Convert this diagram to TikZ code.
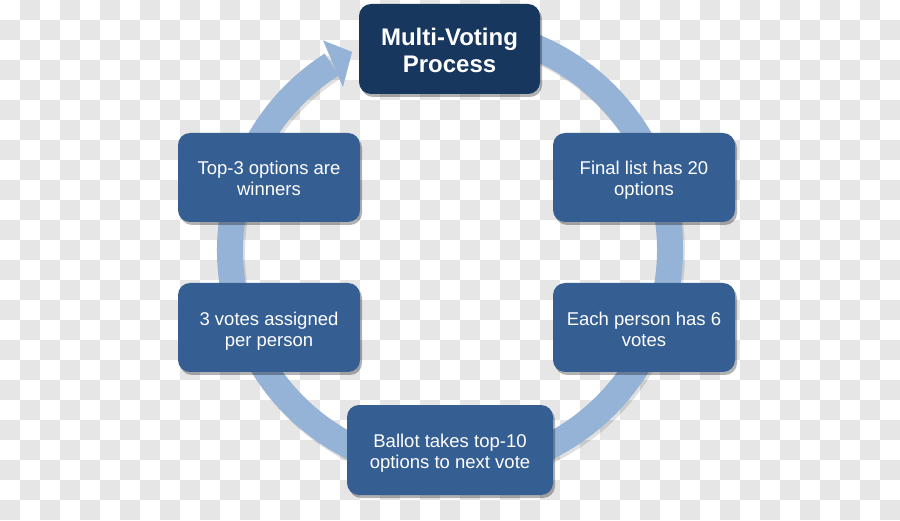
\documentclass[tikz,border=0pt]{standalone}
\usepackage{fontspec}
\setmainfont{Liberation Sans}
\usetikzlibrary{shadows}
\definecolor{boxblue}{HTML}{355E92}
\definecolor{navy}{HTML}{17375E}
\definecolor{ringblue}{HTML}{95B3D7}
\definecolor{checkgray}{HTML}{E6E6E6}
\newcommand{\lowtext}[2][3pt]{\raisebox{-#1}[\height][\depth]{\begin{tabular}{@{}c@{}}#2\end{tabular}}}
\tikzset{
  stepbox/.style={draw=none, fill=boxblue, rounded corners=12pt, text=white,
    minimum width=182pt, minimum height=89pt, align=center, inner sep=0pt,
    font=\fontsize{18.5}{21}\selectfont,
    drop shadow={shadow xshift=2pt, shadow yshift=-3pt, opacity=0.3, fill=black}},
  titlebox/.style={stepbox, fill=navy, minimum width=181pt, minimum height=90pt,
    font=\fontsize{24}{27}\selectfont\bfseries},
  ringline/.style={draw=ringblue, line width=26pt},
  checksq/.style={fill=checkgray, draw=none},
}
\begin{document}
\begin{tikzpicture}[x=1pt,y=1pt]
\useasboundingbox (0,0) rectangle (900,520);
\fill[white] (0,0) rectangle (900,520);
% checkerboard background
\foreach \x in {20,60,...,880}{
  \foreach \y in {20,60,...,500}{
    \fill[checksq] (\x,\y) rectangle ++(20,20);
  }
}
\foreach \x in {0,40,...,880}{
  \foreach \y in {0,40,...,480}{
    \fill[checksq] (\x,\y) rectangle ++(20,20);
  }
}
\coordinate (c) at (450,270);
% ring shadow
\draw[draw=black, opacity=0.12, line width=26pt] ([shift={(2,-3)}]c) ++(80:220) arc[start angle=80, end angle=-238, radius=220];
% ring
\draw[ringline] (c) ++(80:220) arc[start angle=80, end angle=-237.5, radius=220];
\fill[ringblue] ([shift={(121.2:245)}]c) -- ([shift={(116.3:221)}]c) -- ([shift={(123.3:195)}]c) -- cycle;
% nodes
\node[titlebox] (n0) at (449.5,471) {\lowtext[5pt]{Multi-Voting\\Process}};
\node[stepbox] (n1) at (644,342.5) {\lowtext{Final list has 20\\options}};
\node[stepbox] (n2) at (644,192.5) {\lowtext[4pt]{Each person has 6\\votes}};
\node[stepbox, minimum width=206pt, minimum height=90pt] (n3) at (450,70) {\lowtext[4pt]{Ballot takes top-10\\options to next vote}};
\node[stepbox] (n4) at (269,192.5) {\lowtext[4pt]{3 votes assigned\\per person}};
\node[stepbox] (n5) at (269,342.5) {\lowtext[3pt]{Top-3 options are\\winners}};
\end{tikzpicture}
\end{document}
